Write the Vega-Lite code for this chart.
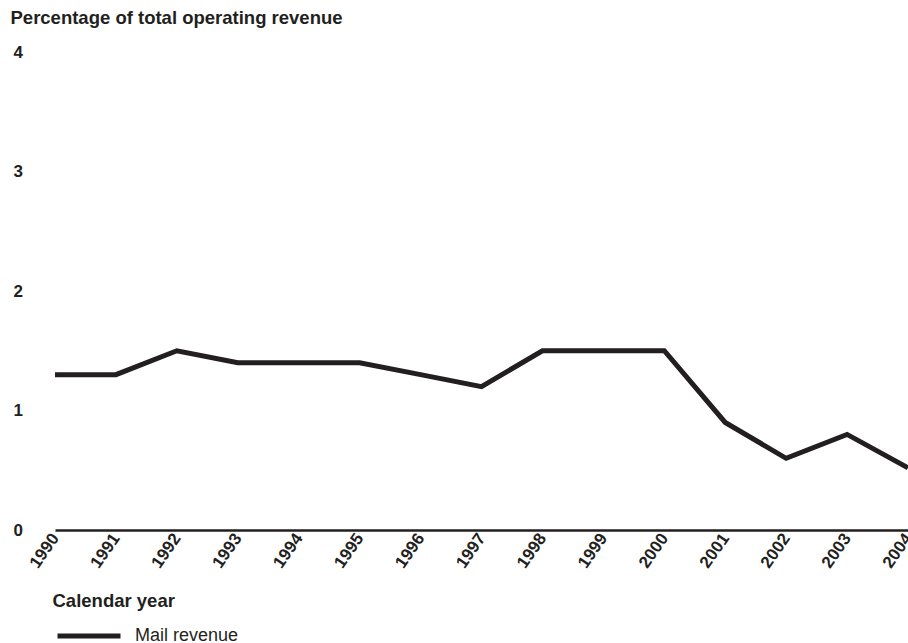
{
  "$schema": "https://vega.github.io/schema/vega-lite/v6.json",
  "width": 853,
  "height": 478,
  "autosize": {"type": "none"},
  "padding": {"left": 55, "top": 52, "right": 0, "bottom": 113},
  "background": "white",
  "config": {
    "view": {"stroke": null},
    "font": "Liberation Sans"
  },
  "data": {
    "values": [
      {"year": 1990, "value": 1.3, "series": "Mail revenue"},
      {"year": 1991, "value": 1.3, "series": "Mail revenue"},
      {"year": 1992, "value": 1.5, "series": "Mail revenue"},
      {"year": 1993, "value": 1.4, "series": "Mail revenue"},
      {"year": 1994, "value": 1.4, "series": "Mail revenue"},
      {"year": 1995, "value": 1.4, "series": "Mail revenue"},
      {"year": 1996, "value": 1.3, "series": "Mail revenue"},
      {"year": 1997, "value": 1.2, "series": "Mail revenue"},
      {"year": 1998, "value": 1.5, "series": "Mail revenue"},
      {"year": 1999, "value": 1.5, "series": "Mail revenue"},
      {"year": 2000, "value": 1.5, "series": "Mail revenue"},
      {"year": 2001, "value": 0.9, "series": "Mail revenue"},
      {"year": 2002, "value": 0.6, "series": "Mail revenue"},
      {"year": 2003, "value": 0.8, "series": "Mail revenue"},
      {"year": 2004, "value": 0.52, "series": "Mail revenue"}
    ]
  },
  "mark": {"type": "line", "strokeWidth": 5, "clip": false, "strokeJoin": "miter"},
  "encoding": {
    "x": {
      "field": "year",
      "type": "quantitative",
      "scale": {"domain": [1990, 2004], "nice": false, "zero": false},
      "axis": {
        "values": [1990,1991,1992,1993,1994,1995,1996,1997,1998,1999,2000,2001,2002,2003,2004],
        "format": "d",
        "grid": false,
        "ticks": false,
        "domainColor": "#231f20",
        "domainWidth": 2.5,
        "labelAngle": -55,
        "labelAlign": "right",
        "labelBaseline": "middle",
        "labelFontWeight": "bold",
        "labelFontSize": 17,
        "labelColor": "#231f20",
        "labelPadding": 5,
        "labelFlush": false,
        "labelOverlap": false,
        "title": "Calendar year",
        "titleFontSize": 18.5,
        "titleFontWeight": "bold",
        "titleColor": "#231f20",
        "titleAngle": 0,
        "titleAlign": "left",
        "titleBaseline": "middle",
        "titleX": -3,
        "titleY": 70
      }
    },
    "y": {
      "field": "value",
      "type": "quantitative",
      "scale": {"domain": [0, 4], "nice": false},
      "axis": {
        "values": [0, 1, 2, 3, 4],
        "grid": false,
        "ticks": false,
        "domain": false,
        "labelAlign": "left",
        "labelPadding": 42,
        "labelFontWeight": "bold",
        "labelFontSize": 17,
        "labelColor": "#231f20",
        "title": "Percentage of total operating revenue",
        "titleFontSize": 18.5,
        "titleFontWeight": "bold",
        "titleColor": "#231f20",
        "titleAngle": 0,
        "titleAlign": "left",
        "titleBaseline": "middle",
        "titleX": -45,
        "titleY": -35
      }
    },
    "color": {
      "field": "series",
      "type": "nominal",
      "scale": {"range": ["#231f20"]},
      "legend": {
        "title": null,
        "orient": "none",
        "legendX": 21,
        "legendY": 571,
        "padding": 0,
        "symbolType": "M-3,0H3",
        "symbolSize": 441,
        "symbolStrokeWidth": 5,
        "symbolStrokeColor": "#231f20",
        "symbolFillColor": "transparent",
        "labelFontSize": 18,
        "labelColor": "#231f20",
        "labelOffset": 33
      }
    }
  }
}
